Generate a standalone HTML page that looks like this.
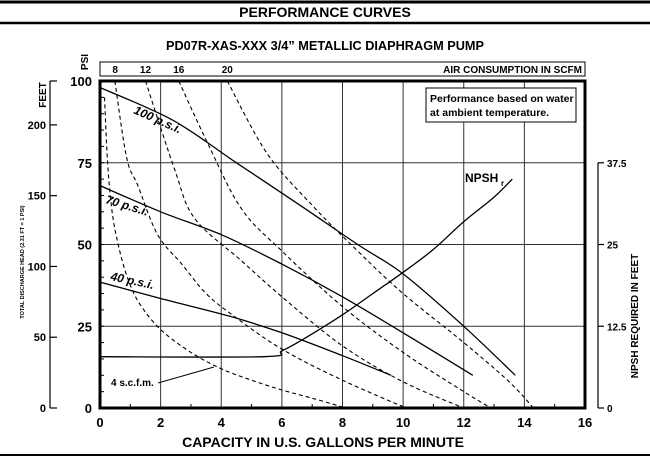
<!DOCTYPE html>
<html><head><meta charset="utf-8"><style>
html,body{margin:0;padding:0;background:#fff;}
svg{display:block;font-family:"Liberation Sans Narrow","Liberation Sans",sans-serif;}
</style></head><body>
<svg id="chart" width="650" height="465" viewBox="0 0 650 465" xmlns="http://www.w3.org/2000/svg">
<rect width="650" height="465" fill="#fff"/>
<line x1="0" y1="2" x2="650" y2="2" stroke="#000" stroke-width="3"/>
<text x="325" y="17" text-anchor="middle" font-size="14" font-weight="bold" font-family="Liberation Sans, sans-serif">PERFORMANCE CURVES</text>
<line x1="0" y1="23" x2="650" y2="23" stroke="#000" stroke-width="2.5"/>
<line x1="0" y1="455" x2="650" y2="455" stroke="#000" stroke-width="2"/>
<text x="325" y="50" text-anchor="middle" font-size="13" font-weight="bold" textLength="318" lengthAdjust="spacingAndGlyphs">PD07R-XAS-XXX  3/4” METALLIC DIAPHRAGM PUMP</text>
<g id="plot"></g>
</svg>
<script>
// data
const gpmTicks = [0,2,4,6,8,10,12,14,16];
const psiTicks = [0,25,50,75,100];
const feetTicks = [0,50,100,150,200];
const npshTicks = ["0","12.5","25","37.5"];
const scfmLabels = ["8","12","16","20"];
const scfmLabelGpm = [0.5,1.5,2.6,4.2];
const gpm100 = [0,2.4,4.5,6.6,8.5,10,12,13.7];
const psi100 = [98,88,75,62,50,41,25,10];
const gpm70 = [0,2,4,6,8,10,12.3];
const psi70 = [68,60,53,44,34,23,10];
const gpm40 = [0,2,4.3,6,8,9.6];
const psi40 = [38.5,33.5,28,23,16,10];
const gpmNpsh = [0,5.4,6,6.7,8,9,10,11,12,13,13.6];
const psiNpsh = [15.7,15.7,17.5,21,28.5,35,41.5,48.5,57,64.5,70];
const gpmS4 = [0.15,0.25,0.4,0.6,0.9,1.3,2,3,4,5,6,7,8];
const psiS4 = [95,75,60,50,40,32,24,17,12,8.5,5.5,3,0.3];
const gpmS8 = [0.49,0.88,1.25,1.9,2.7,3.5,4.43,6,8,10.1];
const psiS8 = [100,76.5,68,53,44,35,28,18,8.5,0];
const gpmS12 = [1.5,2.46,3.12,4.67,6,8,10,12];
const psiS12 = [100,73,58,45,34,19,8,0];
const gpmS16 = [2.6,3.55,4.66,6,8,10,12,12.9];
const psiS16 = [100,81,61,48,31,17,5,0];
const gpmS20 = [4.2,5.5,7,8.5,10,12,13.5,14.3];
const psiS20 = [100,78,62,48,35,20,8,0];

const X0=100,X1=585,Y0=408,Y1=81;
const sx = g => X0 + g*(X1-X0)/16;
const sy = p => Y0 - p*(Y0-Y1)/100;
const NS="http://www.w3.org/2000/svg";
const plot=document.getElementById('plot');
function el(tag,attrs,txt){const e=document.createElementNS(NS,tag);for(const k in attrs)e.setAttribute(k,attrs[k]);if(txt!==undefined)e.textContent=txt;plot.appendChild(e);return e;}
function poly(gs,ps,dash,w){
 const P=gs.map((g,i)=>[sx(g),sy(ps[i])]);
 let d='M'+P[0][0].toFixed(1)+','+P[0][1].toFixed(1);
 for(let i=0;i<P.length-1;i++){
  const p0=P[Math.max(i-1,0)],p1=P[i],p2=P[i+1],p3=P[Math.min(i+2,P.length-1)];
  const c1=[p1[0]+(p2[0]-p0[0])/6,p1[1]+(p2[1]-p0[1])/6];
  const c2=[p2[0]-(p3[0]-p1[0])/6,p2[1]-(p3[1]-p1[1])/6];
  d+=` C${c1[0].toFixed(1)},${c1[1].toFixed(1)} ${c2[0].toFixed(1)},${c2[1].toFixed(1)} ${p2[0].toFixed(1)},${p2[1].toFixed(1)}`;
 }
 const a={d:d,fill:'none',stroke:'#000','stroke-width':w||1.2,'stroke-linejoin':'round'};if(dash)a['stroke-dasharray']=dash;return el('path',a);}

// top air box
let e=el('rect',{x:X0,y:62,width:X1-X0,height:14,fill:'none',stroke:'#000','stroke-width':1});


scfmLabels.forEach((s,i)=>{const t=el('text',{x:sx(scfmLabelGpm[i]),y:73,'text-anchor':'middle','font-size':10,'font-weight':'bold'},s);
 
 });
e=el('text',{x:X1-3,y:73,'text-anchor':'end','font-size':10,'font-weight':'bold'},'AIR CONSUMPTION IN SCFM');



// grid
gpmTicks.slice(1,-1).forEach(g=>{const l=el('line',{x1:sx(g),y1:Y1,x2:sx(g),y2:Y0,stroke:'#333','stroke-width':1});
 
 });
psiTicks.slice(1,-1).forEach(p=>{const l=el('line',{x1:X0,y1:sy(p),x2:X1,y2:sy(p),stroke:'#333','stroke-width':1});
 
 });
for(let p=5;p<100;p+=5){const l=el('line',{x1:X0,y1:sy(p),x2:X0+4,y2:sy(p),stroke:'#000','stroke-width':1});
 
 }
for(let g=1;g<16;g+=2){const l=el('line',{x1:sx(g),y1:Y0,x2:sx(g),y2:Y0-4,stroke:'#000','stroke-width':1});
 
 }

// note box
e=el('rect',{x:426,y:88,width:150,height:34,fill:'#fff',stroke:'#000','stroke-width':1});


e=el('text',{x:430,y:102,'font-size':10.5,'font-weight':'bold'},'Performance based on water');


e=el('text',{x:430,y:116,'font-size':10.5,'font-weight':'bold'},'at ambient temperature.');



[[gpmS4,psiS4,'scfm-4-curve'],[gpmS8,psiS8,'scfm-8-curve'],[gpmS12,psiS12,'scfm-12-curve'],[gpmS16,psiS16,'scfm-16-curve'],[gpmS20,psiS20,'scfm-20-curve']].forEach(c=>{
 const p=poly(c[0],c[1],'4,3',1.1);
 
 });
[[gpm100,psi100,'psi-100-curve'],[gpm70,psi70,'psi-70-curve'],[gpm40,psi40,'psi-40-curve'],[gpmNpsh,psiNpsh,'npsh-curve']].forEach(c=>{
 const p=poly(c[0],c[1],null,1.3);
 
 });

function lbl(x,y,rot,txt,name,size){const t=el('text',{x:x,y:y,'font-size':size||12,'font-weight':'bold','font-style':'italic',transform:`rotate(${rot} ${x} ${y})`},txt);
 
 return t;}
lbl(133,113,24,'100 p.s.i.','label-100-psi');
lbl(105,203,17,'70 p.s.i.','label-70-psi');
lbl(110,280,12,'40 p.s.i.','label-40-psi');
e=el('text',{x:465,y:182,'font-size':12,'font-weight':'bold'},'NPSH');


e=el('text',{x:501,y:186,'font-size':8,'font-weight':'bold'},'r');


e=el('text',{x:111,y:386,'font-size':10,'font-weight':'bold'},'4 s.c.f.m.');


e=el('line',{x1:158,y1:383,x2:214,y2:367,stroke:'#000','stroke-width':1});



e=el('rect',{x:X0,y:Y1,width:X1-X0,height:Y0-Y1,fill:'none',stroke:'#000','stroke-width':3});



gpmTicks.forEach(g=>{const t=el('text',{x:sx(g),y:427,'text-anchor':'middle','font-size':13,'font-weight':'bold'},String(g));
 
 });
e=el('text',{x:323,y:447,'text-anchor':'middle','font-size':14,'font-weight':'bold'},'CAPACITY IN U.S. GALLONS PER MINUTE');



psiTicks.forEach(p=>{const t=el('text',{x:92,y:sy(p)+5,'text-anchor':'end','font-size':13,'font-weight':'bold'},String(p));
 
 });
e=el('text',{x:0,y:0,'font-size':10,'font-weight':'bold','text-anchor':'middle',transform:'translate(88,62) rotate(-90)'},'PSI');



e=el('line',{x1:50,y1:sy(100),x2:50,y2:Y0,stroke:'#000','stroke-width':1.2});


e=el('line',{x1:50,y1:sy(100),x2:57,y2:sy(100),stroke:'#000','stroke-width':1.2});


feetTicks.forEach(f=>{const y=sy(f/2.31);
 const l=el('line',{x1:50,y1:y,x2:57,y2:y,stroke:'#000','stroke-width':1.2});
 
 
 const t=el('text',{x:46,y:y+4,'text-anchor':'end','font-size':11,'font-weight':'bold'},String(f));
 
 });
e=el('text',{x:0,y:0,'font-size':10,'font-weight':'bold','text-anchor':'middle',transform:'translate(46,95) rotate(-90)'},'FEET');


e=el('text',{x:0,y:0,'font-size':5.5,'font-weight':'bold','text-anchor':'middle',transform:'translate(24,262) rotate(-90)'},'TOTAL DISCHARGE HEAD (2.31 FT = 1 PSI)');



e=el('line',{x1:598,y1:sy(75),x2:598,y2:Y0,stroke:'#000','stroke-width':1.2});


npshTicks.forEach(n=>{const y=sy(parseFloat(n)*2);
 const l=el('line',{x1:598,y1:y,x2:604,y2:y,stroke:'#000','stroke-width':1.2});
 
 
 const t=el('text',{x:607,y:y+4,'font-size':10,'font-weight':'bold'},n);
 
 });
e=el('text',{x:0,y:0,'font-size':10,'font-weight':'bold','text-anchor':'middle',transform:'translate(638,316) rotate(-90)'},'NPSH REQUIRED IN FEET');


</script>
</body></html>
